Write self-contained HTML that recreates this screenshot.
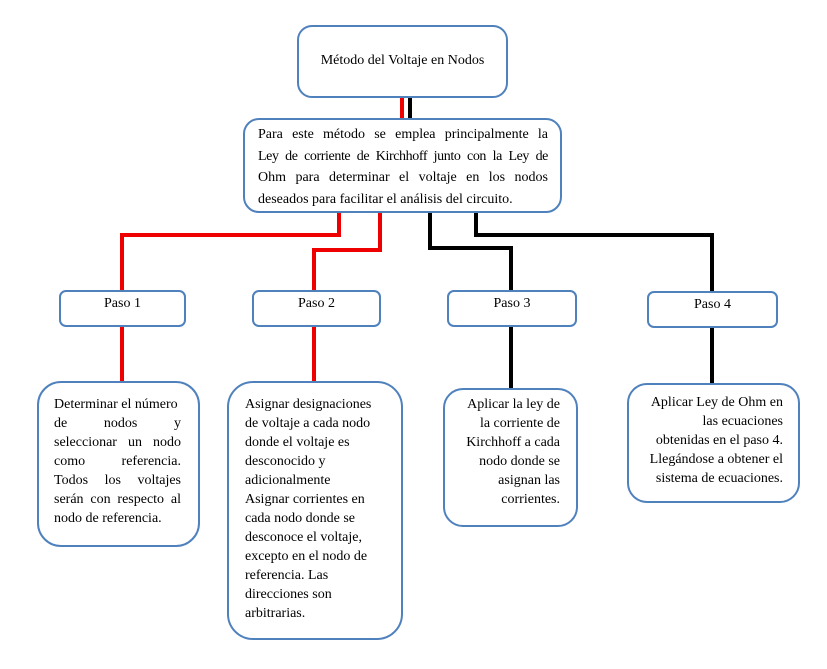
<!DOCTYPE html>
<html><head><meta charset="utf-8"><style>
body{margin:0;width:827px;height:669px;background:#fff;position:relative;overflow:hidden;font-family:"Liberation Serif",serif;font-size:14px;color:#000}
.b{position:absolute;border:2px solid #4f81bd;background:#fff;box-sizing:border-box}
.t{position:absolute;line-height:19px;white-space:nowrap}
.j{text-align:justify;text-align-last:justify}
.l{position:absolute}
.r{background:#e00}.k{background:#000}
</style></head><body>
<!-- connectors -->
<div class="l r" style="left:400px;top:96px;width:4px;height:24px"></div>
<div class="l k" style="left:408px;top:96px;width:4px;height:24px"></div>
<div class="l r" style="left:337px;top:210px;width:4px;height:27px"></div>
<div class="l r" style="left:120px;top:233px;width:221px;height:4px"></div>
<div class="l r" style="left:120px;top:233px;width:4px;height:59px"></div>
<div class="l r" style="left:378px;top:210px;width:4px;height:42px"></div>
<div class="l r" style="left:312px;top:248px;width:70px;height:4px"></div>
<div class="l r" style="left:312px;top:248px;width:4px;height:44px"></div>
<div class="l k" style="left:428px;top:210px;width:4px;height:40px"></div>
<div class="l k" style="left:428px;top:246px;width:85px;height:4px"></div>
<div class="l k" style="left:509px;top:246px;width:4px;height:46px"></div>
<div class="l k" style="left:474px;top:210px;width:4px;height:27px"></div>
<div class="l k" style="left:474px;top:233px;width:240px;height:4px"></div>
<div class="l k" style="left:710px;top:233px;width:4px;height:60px"></div>
<div class="l r" style="left:120px;top:324px;width:4px;height:59px"></div>
<div class="l r" style="left:312px;top:324px;width:4px;height:59px"></div>
<div class="l k" style="left:509px;top:324px;width:4px;height:66px"></div>
<div class="l k" style="left:710px;top:325px;width:4px;height:60px"></div>

<div class="b" style="left:297px;top:25px;width:211px;height:73px;border-radius:15px"></div>
<div class="t" style="left:297px;top:51px;width:211px;text-align:center">Método del Voltaje en Nodos</div>

<div class="b" style="left:243px;top:118px;width:319px;height:95px;border-radius:16px"></div>
<div class="t" style="left:258px;top:124px;width:290px;line-height:21.5px">
<div class="j">Para este método se emplea principalmente la</div>
<div class="j" style="letter-spacing:-0.4px">Ley de corriente de Kirchhoff junto con la Ley de</div>
<div class="j">Ohm para determinar el voltaje en los nodos</div>
<div>deseados para facilitar el análisis del circuito.</div></div>

<div class="b" style="left:59px;top:290px;width:127px;height:37px;border-radius:7px"></div>
<div class="t" style="left:59px;top:294px;width:127px;text-align:center">Paso 1</div>
<div class="b" style="left:252px;top:290px;width:129px;height:37px;border-radius:7px"></div>
<div class="t" style="left:252px;top:294px;width:129px;text-align:center">Paso 2</div>
<div class="b" style="left:447px;top:290px;width:130px;height:37px;border-radius:7px"></div>
<div class="t" style="left:447px;top:294px;width:130px;text-align:center">Paso 3</div>
<div class="b" style="left:647px;top:291px;width:131px;height:37px;border-radius:7px"></div>
<div class="t" style="left:647px;top:295px;width:131px;text-align:center">Paso 4</div>

<div class="b" style="left:37px;top:381px;width:163px;height:166px;border-radius:24px"></div>
<div class="t" style="left:54px;top:395px;width:127px">
<div>Determinar el número</div><div class="j">de nodos y</div><div class="j">seleccionar un nodo</div><div class="j">como referencia.</div><div class="j">Todos los voltajes</div><div class="j">serán con respecto al</div><div>nodo de referencia.</div></div>

<div class="b" style="left:227px;top:381px;width:176px;height:259px;border-radius:26px"></div>
<div class="t" style="left:245px;top:395px;width:150px">
<div>Asignar designaciones</div><div>de voltaje a cada nodo</div><div>donde el voltaje es</div><div>desconocido y</div><div>adicionalmente</div><div>Asignar corrientes en</div><div>cada nodo donde se</div><div>desconoce el voltaje,</div><div>excepto en el nodo de</div><div>referencia. Las</div><div>direcciones son</div><div>arbitrarias.</div></div>

<div class="b" style="left:443px;top:388px;width:135px;height:139px;border-radius:20px"></div>
<div class="t" style="left:450px;top:395px;width:110px;text-align:right">
<div>Aplicar la ley de</div><div>la corriente de</div><div>Kirchhoff a cada</div><div>nodo donde se</div><div>asignan las</div><div>corrientes.</div></div>

<div class="b" style="left:627px;top:383px;width:173px;height:120px;border-radius:20px"></div>
<div class="t" style="left:638px;top:393px;width:145px;text-align:right">
<div>Aplicar Ley de Ohm en</div><div>las ecuaciones</div><div>obtenidas en el paso 4.</div><div>Llegándose a obtener el</div><div>sistema de ecuaciones.</div></div>
</body></html>
